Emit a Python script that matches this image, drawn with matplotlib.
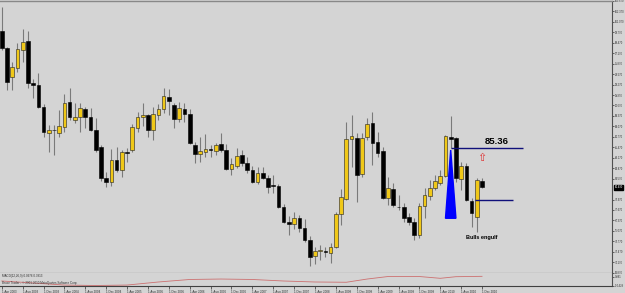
import numpy as np
import matplotlib.pyplot as plt
from matplotlib.patches import Polygon

plt.rcParams['font.family'] = ['Liberation Sans', 'DejaVu Sans']

# monthly candles, Apr 2003 .. Dec 2010
opens = [99.94, 97.86, 94.18, 95.30, 97.57, 98.73, 93.51, 93.22, 90.48, 87.21,
         87.64, 87.21, 88.03, 91.10, 88.87, 89.24, 90.24, 89.24, 87.62, 85.51,
         81.65, 81.15, 83.89, 82.65, 84.88, 85.13, 87.87, 89.20, 89.49, 87.62,
         89.49, 90.20, 91.76, 90.73, 89.03, 90.20, 89.61, 85.76, 84.67, 84.85,
         85.16, 85.05, 85.84, 85.13, 82.73, 83.18, 84.51, 83.48, 82.65, 81.12,
         82.23, 81.65, 80.68, 80.64, 78.00, 76.20, 75.96, 76.70, 75.40, 73.90,
         71.94, 72.55, 72.55, 72.36, 73.10, 77.14, 79.00, 86.47, 86.66, 82.15,
         86.79, 88.53, 86.17, 85.05, 79.12, 80.24, 78.05, 78.00, 76.76, 76.22,
         74.56, 78.17, 79.41, 80.37, 81.07, 81.90, 86.79, 86.59, 81.49, 83.14,
         78.83, 76.84, 81.32]
highs = [102.92, 97.98, 96.12, 98.44, 100.19, 99.94, 93.97, 94.71, 90.86, 88.24,
         88.24, 90.11, 92.10, 92.85, 90.98, 90.98, 90.48, 90.36, 89.11, 85.76,
         82.40, 85.26, 85.51, 85.13, 85.44, 88.37, 89.86, 90.98, 89.61, 90.48,
         90.86, 92.81, 92.68, 91.02, 91.14, 91.02, 90.20, 86.17, 86.79, 87.12,
         85.76, 85.97, 87.21, 85.88, 84.10, 85.35, 85.13, 84.23, 83.14, 83.06,
         82.98, 82.02, 82.02, 80.89, 78.40, 76.90, 77.40, 77.00, 76.60, 74.40,
         73.10, 73.30, 73.10, 73.57, 77.46, 80.28, 88.65, 89.49, 87.25, 87.25,
         89.11, 89.90, 87.41, 85.54, 81.78, 81.03, 79.54, 78.54, 77.30, 76.68,
         78.54, 80.37, 81.40, 82.02, 82.64, 87.00, 89.36, 86.75, 83.68, 83.48,
         79.16, 81.61, 81.61]
lows = [97.57, 92.60, 92.60, 94.84, 96.08, 92.85, 91.60, 90.36, 86.75, 84.88,
        84.51, 86.75, 87.37, 88.87, 88.49, 87.37, 87.87, 87.50, 84.88, 81.28,
        80.53, 80.66, 82.40, 81.78, 83.64, 84.88, 87.37, 88.12, 86.75, 86.38,
        88.87, 89.70, 89.49, 87.83, 88.66, 88.66, 85.82, 83.48, 83.68, 84.30,
        84.23, 84.51, 84.92, 82.65, 82.02, 82.86, 83.14, 82.23, 80.99, 80.90,
        81.49, 79.75, 79.75, 77.90, 76.10, 74.50, 75.30, 74.90, 73.70, 70.70,
        70.90, 71.45, 71.86, 71.12, 72.90, 75.80, 78.90, 83.06, 78.70, 81.81,
        86.38, 83.27, 84.30, 79.00, 78.29, 78.08, 77.67, 76.22, 75.80, 73.94,
        74.15, 76.64, 78.91, 80.16, 80.78, 81.81, 85.34, 81.19, 80.16, 78.83,
        75.59, 74.97, 80.37]
closes = [97.86, 93.63, 95.50, 97.66, 98.61, 93.51, 93.18, 90.52, 87.41, 87.62,
          87.58, 88.12, 90.98, 89.24, 89.24, 90.36, 89.24, 87.62, 85.13, 81.65,
          81.15, 83.89, 82.65, 84.88, 84.76, 88.03, 89.24, 89.49, 87.62, 89.61,
          90.24, 91.85, 91.23, 88.95, 90.32, 89.61, 85.97, 84.64, 85.01, 85.22,
          85.10, 85.76, 85.13, 82.81, 83.39, 84.42, 83.48, 82.65, 81.15, 82.23,
          81.61, 80.57, 80.62, 78.00, 76.20, 75.96, 76.70, 75.40, 73.90, 71.86,
          72.55, 72.57, 72.45, 73.10, 77.14, 79.25, 86.47, 86.88, 82.02, 86.59,
          88.37, 85.97, 84.80, 79.12, 80.37, 78.29, 77.98, 76.64, 76.22, 74.56,
          78.17, 79.54, 80.37, 81.28, 81.94, 86.88, 86.47, 81.61, 83.14, 78.91,
          77.26, 81.40, 80.49]

date_labels = ["1 Apr 2003", "1 Aug 2003", "1 Dec 2003", "1 Apr 2004", "1 Aug 2004",
               "1 Dec 2004", "1 Apr 2005", "1 Aug 2005", "1 Dec 2005", "1 Apr 2006",
               "1 Aug 2006", "1 Dec 2006", "1 Apr 2007", "1 Aug 2007", "1 Dec 2007",
               "1 Apr 2008", "1 Aug 2008", "1 Dec 2008", "1 Apr 2009", "1 Aug 2009",
               "1 Dec 2009", "1 Apr 2010", "1 Aug 2010", "1 Dec 2010"]
price_ticks = [103.670, 102.370, 101.070, 99.770, 98.470, 97.170, 95.870, 94.570,
               93.270, 91.970, 90.670, 89.370, 88.070, 86.770, 85.470, 84.170,
               82.870, 81.570, 78.970, 77.670, 76.370, 75.070, 73.770, 72.470,
               71.170, 69.870]

# drawn objects
resist_level = 85.36
resist_span = (86, 99.8)
support_level = 78.92
support_span = (90.7, 97.9)
tri_month, tri_top, tri_bottom = 86, 85.13, 76.64

# indicator subwindow (red line)
ind_months = [0, 6, 12, 18, 24, 30, 36, 42, 48, 54, 60, 66, 70, 74, 80, 84, 87, 92]
ind_values = [0.38, 0.16, -0.07, -0.12, -0.07, 0.27, 0.55, 0.60, 0.55, 0.38,
              0.27, 0.24, 0.60, 0.88, 0.88, 0.68, 0.86, 0.90]

bg = '#d4d4d4'
bull = '#f0c818'
bear = '#000000'
wick = '#7a7a7a'
lab_size = 1.9

fig = plt.figure(figsize=(6.25, 2.93), dpi=100, facecolor=bg)
ax = fig.add_axes([0, 20 / 293, 612 / 625, 272 / 293], facecolor=bg)
axi = fig.add_axes([0, 7 / 293, 612 / 625, 13 / 293], facecolor=bg)

x = np.arange(len(opens))
o = np.array(opens); h = np.array(highs); l = np.array(lows); c = np.array(closes)
up = c >= o

ax.vlines(x, l, h, color=wick, lw=0.8, zorder=1)
body_lo = np.minimum(o, c)
body_h = np.maximum(np.abs(c - o), 0.1)
ax.bar(x[up], body_h[up], bottom=body_lo[up], width=0.7, color=bull,
       edgecolor='#202020', linewidth=0.4, zorder=2)
ax.bar(x[~up], body_h[~up], bottom=body_lo[~up], width=0.7, color=bear,
       edgecolor=bear, linewidth=0.4, zorder=2)

# annotations
ax.hlines(resist_level, *resist_span, color='#10107a', lw=1.0, zorder=3)
ax.hlines(support_level, *support_span, color='#10107a', lw=1.0, zorder=3)
tri = Polygon([(tri_month, tri_top), (tri_month - 1.0, tri_bottom),
               (tri_month + 1.0, tri_bottom)], closed=True, color='#0000ff', zorder=4)
ax.add_patch(tri)
ax.text(94.9, 86.13, f"{resist_level:.2f}", fontsize=6.8, fontweight='bold',
        ha='center', va='center', color='black')
ax.text(92.0, 84.1, "\u21e7", fontsize=8, ha='center', va='center', color='#e03030',
        family='DejaVu Sans')
ax.text(91.9, 74.22, "Bulls engulf", fontsize=4, fontweight='bold',
        ha='center', va='center', color='black')

ax.set_xlim(-0.345, 116.9)
ax.set_ylim(69.83, 103.67)
ax.set_xticks([])
ax.yaxis.tick_right()
ax.set_yticks(price_ticks)
ax.set_yticklabels([f"{v:.3f}" for v in price_ticks])
ax.tick_params(axis='y', direction='out', length=1.5, width=0.5, labelsize=lab_size,
               pad=0.8, colors='#303030')
ax.spines['left'].set_visible(False)
ax.spines['right'].set_color('#505050')
ax.spines['right'].set_linewidth(0.8)
ax.spines['top'].set_color('#888888')
ax.spines['top'].set_linewidth(1.0)
ax.spines['bottom'].set_color('#404040')
ax.spines['bottom'].set_linewidth(0.8)

# current price label
ax.text(1.004, closes[-1], f"{closes[-1]:.3f}", transform=ax.get_yaxis_transform(),
        fontsize=lab_size, color='white', va='center', ha='left',
        bbox=dict(boxstyle='square,pad=0.2', fc='black', ec='black'))

# indicator window
axi.plot(ind_months, ind_values, color='#cc7070', lw=0.6)
axi.set_xlim(-0.345, 116.9)
axi.set_ylim(-0.176, 1.271)
axi.yaxis.tick_right()
axi.set_yticks([0.881, -0.1429])
axi.set_yticklabels(["0.881", "-0.1429"])
axi.tick_params(axis='y', direction='out', length=1.5, width=0.5, labelsize=lab_size,
                pad=0.8, colors='#303030')
axi.set_xticks(np.arange(0, len(opens), 4))
axi.set_xticklabels(date_labels, ha='left')
axi.tick_params(axis='x', direction='out', length=2.5, width=0.5, labelsize=2.2,
                pad=0.6, colors='#303030')
axi.spines['left'].set_visible(False)
axi.spines['top'].set_visible(False)
axi.spines['right'].set_color('#505050')
axi.spines['bottom'].set_color('#404040')
axi.spines['bottom'].set_linewidth(0.8)
axi.text(0.003, 0.93, "MACD(12,26,9) 0.0976 0.3813", transform=axi.transAxes,
         fontsize=2.2, color='#303030', va='top', ha='left')
axi.text(0.003, 0.05, "Bruce Trader - \u00a9 2001-2010 MetaQuotes Software Corp.",
         transform=axi.transAxes, fontsize=2.2, color='#303030', va='bottom', ha='left')

fig.savefig("out.png", dpi=100, facecolor=bg)
